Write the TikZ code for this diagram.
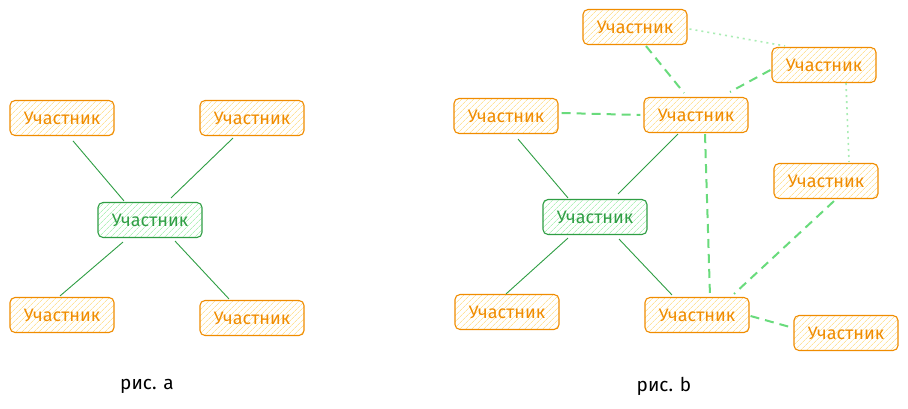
\documentclass[tikz,border=0pt]{standalone}
\usepackage{fontspec}
\setmainfont{Fira Sans}
\usetikzlibrary{patterns.meta}
\definecolor{ostroke}{HTML}{F08C00}
\definecolor{ofill}{HTML}{FFE39A}
\definecolor{gstroke}{HTML}{2F9E44}
\definecolor{gfill}{HTML}{B2F2BB}
\definecolor{gdash}{HTML}{69DB7C}
\definecolor{gdot}{HTML}{A9EDB4}
\tikzset{
  member/.style={draw=ostroke, line width=1.1pt, rounded corners=5pt,
    minimum width=104pt, minimum height=35pt, inner sep=0pt,
    pattern={Lines[angle=45,distance=4pt,line width=0.8pt]}, pattern color=ofill,
    text=ostroke, font=\fontsize{18}{20}\selectfont},
  hub/.style={member, draw=gstroke, pattern color=gfill, text=gstroke},
  solidlink/.style={draw=gstroke, line width=0.9pt},
  dashlink/.style={draw=gdash, line width=2pt, dash pattern=on 9pt off 6pt},
  dotlink/.style={draw=gdot, line width=1.6pt, dash pattern=on 2pt off 4pt},
  caption/.style={font=\fontsize{19}{21}\selectfont, text=black}
}
\begin{document}
\begin{tikzpicture}[x=1pt,y=-1pt]
\useasboundingbox[fill=white] (0,0) rectangle (908,409);
% left diagram
\node[member] (tl) at (62,118) {Участник};
\node[member] (tr) at (252,118) {Участник};
\node[hub] (ca) at (150,220) {Участник};
\node[member] (bl) at (62,315) {Участник};
\node[member] (br) at (252,318) {Участник};
\draw[solidlink] ([shift={(11,5)}]tl.south) -- ([shift={(-26,-1)}]ca.north);
\draw[solidlink] ([shift={(-19,2)}]tr.south) -- ([shift={(21,-4)}]ca.north);
\draw[solidlink] ([shift={(-27,4)}]ca.south) -- ([shift={(-2,-1)}]bl.north);
\draw[solidlink] ([shift={(25,3)}]ca.south) -- ([shift={(-23,-1)}]br.north);
\node[caption] (capa) at (147,386) {рис. a};
% right diagram
\node[member] (top) at (635,27) {Участник};
\node[member] (rt) at (824,65) {Участник};
\node[member] (ml) at (506,116) {Участник};
\node[member] (mm) at (696,115) {Участник};
\node[member] (rm) at (826,181) {Участник};
\node[hub] (cb) at (595,217) {Участник};
\node[member] (bl2) at (507,312) {Участник};
\node[member] (bm) at (697,315) {Участник};
\node[member] (br2) at (846,333) {Участник};
\draw[solidlink] ([shift={(12,5)}]ml.south) -- ([shift={(-27,-1)}]cb.north);
\draw[solidlink] ([shift={(-18,1)}]mm.south) -- ([shift={(23,-5)}]cb.north);
\draw[solidlink] ([shift={(-27,3)}]cb.south) -- ([shift={(-1,0)}]bl2.north);
\draw[solidlink] ([shift={(24,4)}]cb.south) -- ([shift={(-25,-2)}]bm.north);
\draw[dashlink] ([shift={(11,1)}]top.south) -- ([shift={(-12,-4)}]mm.north);
\draw[dashlink] ([shift={(-1,5)}]rt.west) -- ([shift={(34,-5)}]mm.north);
\draw[dashlink] ([shift={(3,-3)}]ml.east) -- ([shift={(-3,0)}]mm.west);
\draw[dashlink] ([shift={(9,1)}]mm.south) -- ([shift={(13,-1)}]bm.north);
\draw[dashlink] ([shift={(8,2)}]rm.south) -- ([shift={(37,-3)}]bm.north);
\draw[dashlink] ([shift={(1,1)}]bm.east) -- ([shift={(0,-5)}]br2.west);
\draw[dotlink] ([shift={(2,2)}]top.east) -- ([shift={(-39,-1)}]rt.north);
\draw[dotlink] ([shift={(22,0)}]rt.south) -- ([shift={(23,-1)}]rm.north);
\node[caption] (capb) at (664,386) {рис. b};
\end{tikzpicture}
\end{document}
